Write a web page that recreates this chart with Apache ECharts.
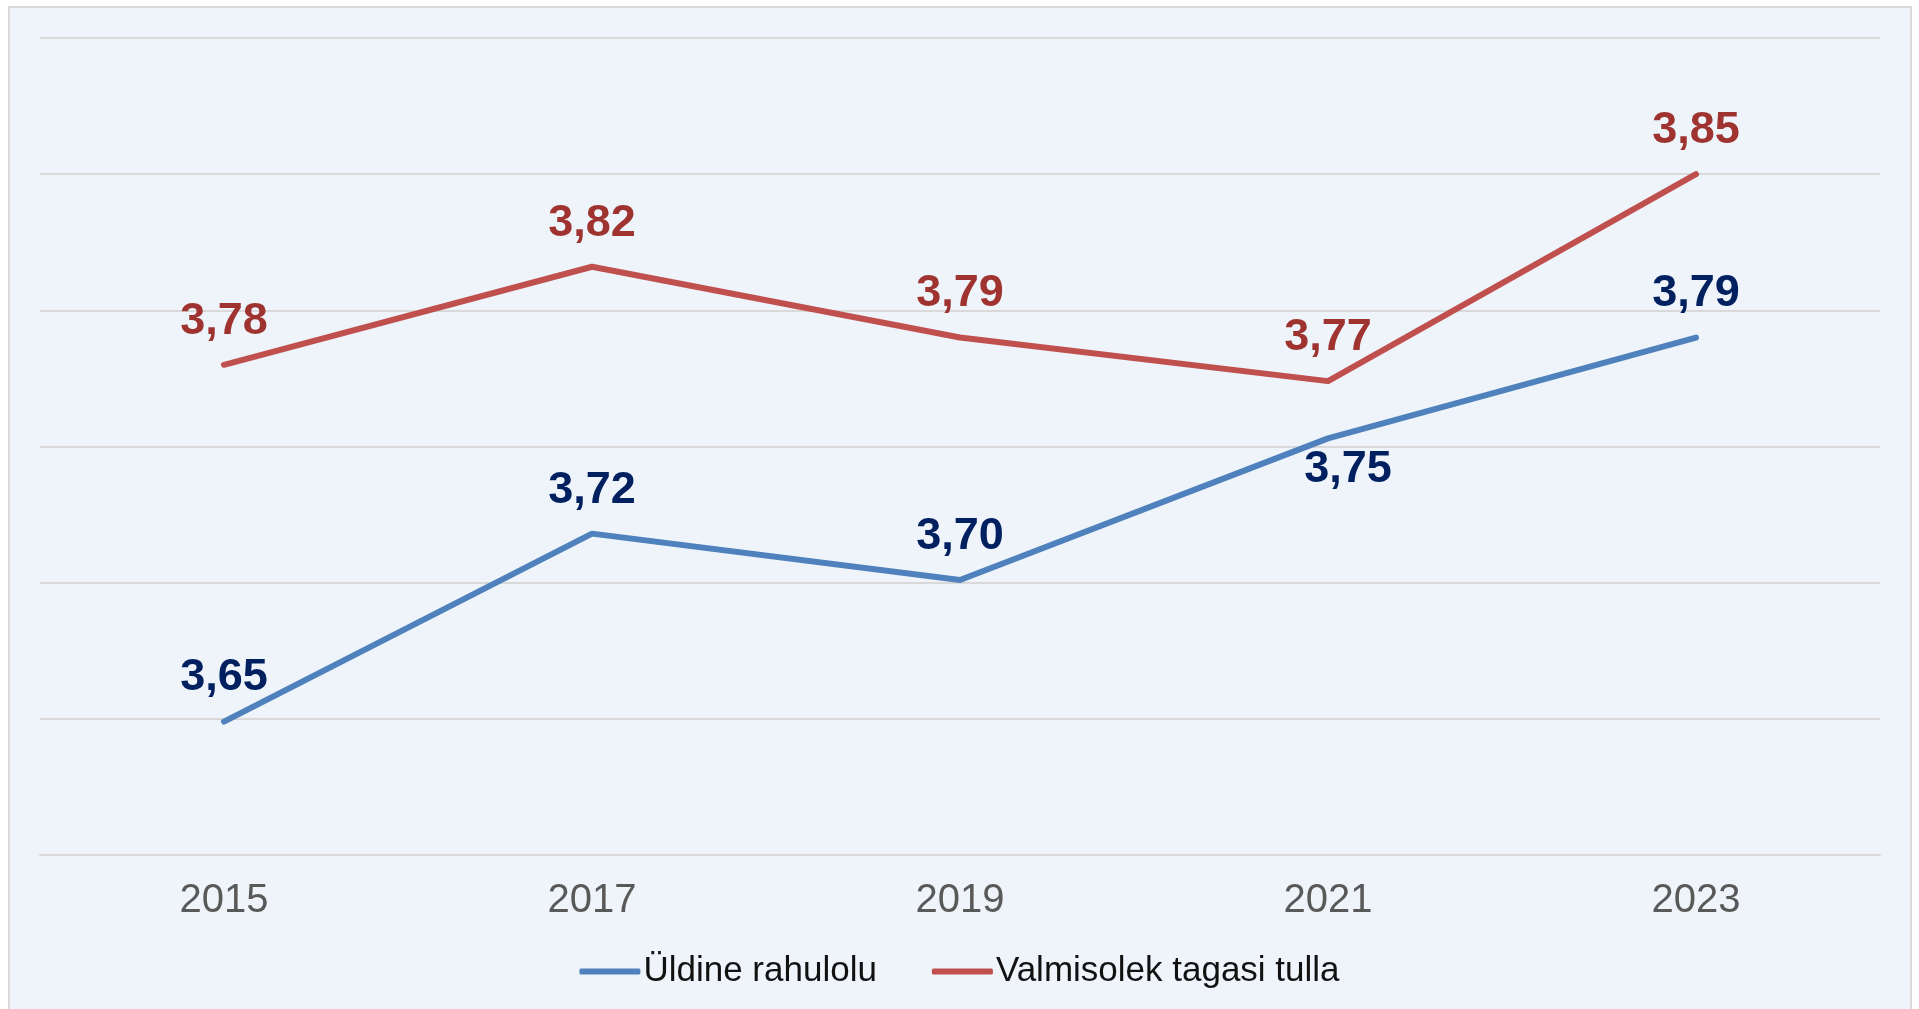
<!DOCTYPE html>
<html>
<head>
<meta charset="utf-8">
<script src="https://cdn.jsdelivr.net/npm/echarts@6/dist/echarts.min.js"></script>
<style>
  html, body { margin: 0; padding: 0; background: #ffffff; }
  #frame {
    position: absolute; left: 8px; top: 6px; width: 1900px; height: 1010px;
    border: 2px solid #d9d9d9; background: #eff4fb;
  }
  #chart { position: absolute; left: 0; top: 0; width: 1919px; height: 1009px; }
</style>
</head>
<body>
<div id="frame"></div>
<div id="chart"></div>
<script>
// years on the x axis
const years = ['2015', '2017', '2019', '2021', '2023'];

// values (labels show them rounded to 2 decimals)
const overall = [3.649, 3.718, 3.701, 3.753, 3.790];
const returnIntent = [3.780, 3.816, 3.790, 3.774, 3.850];

const seriesNames = ['Üldine rahulolu', 'Valmisolek tagasi tulla'];

const FONT = '"Liberation Sans", Arial, sans-serif';

const fmt = (p) => (Math.round(p.value * 100) / 100).toFixed(2).replace('.', ',');

function labelFor(color) {
  return {
    show: true,
    position: 'top',
    distance: 21,
    formatter: fmt,
    color: color,
    fontFamily: FONT,
    fontWeight: 'bold',
    fontSize: 45
  };
}

const chart = echarts.init(document.getElementById('chart'));

chart.setOption({
  animation: false,
  backgroundColor: 'transparent',
  grid: { left: 40, right: 39, top: 38, bottom: 154 },
  legend: {
    bottom: 15,
    left: 'center',
    itemWidth: 61,
    itemHeight: 6,
    itemGap: 55,
    icon: 'roundRect',
    textStyle: { fontFamily: FONT, fontSize: 35, color: '#111111', padding: [0, 0, 0, -2] },
    data: seriesNames
  },
  xAxis: {
    type: 'category',
    data: years,
    boundaryGap: true,
    axisLine: { lineStyle: { color: '#d9d9d9', width: 2 } },
    axisTick: { show: false },
    axisLabel: { margin: 26, fontFamily: FONT, fontSize: 40, color: '#595959' }
  },
  yAxis: {
    type: 'value',
    min: 3.6,
    max: 3.9,
    interval: 0.05,
    axisLabel: { show: false },
    axisLine: { show: false },
    axisTick: { show: false },
    splitLine: { lineStyle: { color: '#d9d9d9', width: 2 } }
  },
  series: [
    {
      name: seriesNames[0],
      type: 'line',
      data: overall.map((v, i) => i === 3
        ? { value: v, label: { position: 'bottom', distance: 9, offset: [20, 0] } }
        : v),
      showSymbol: true,
      symbol: 'circle',
      symbolSize: 0.1,
      itemStyle: { color: '#4f81bd' },
      lineStyle: { color: '#4f81bd', width: 6, cap: 'round', join: 'round' },
      label: labelFor('#002060'),
      z: 3
    },
    {
      name: seriesNames[1],
      type: 'line',
      data: returnIntent,
      showSymbol: true,
      symbol: 'circle',
      symbolSize: 0.1,
      itemStyle: { color: '#c0504d' },
      lineStyle: { color: '#c0504d', width: 6, cap: 'round', join: 'round' },
      label: labelFor('#9e3330'),
      z: 3
    }
  ]
});
</script>
</body>
</html>
